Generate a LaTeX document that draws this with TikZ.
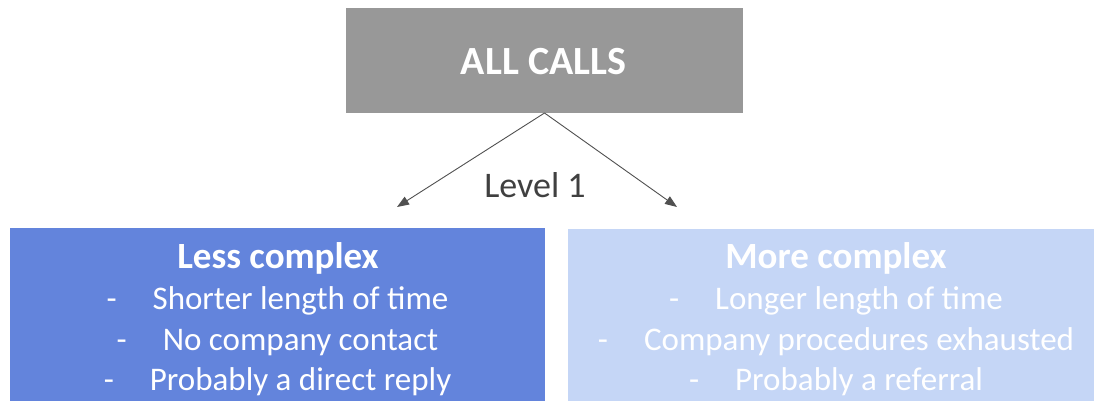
\documentclass[tikz,border=0pt]{standalone}
\usepackage{fontspec}
\setmainfont{Carlito}
\usetikzlibrary{arrows.meta}

\definecolor{grayfill}{HTML}{989898}
\definecolor{lessblue}{HTML}{6384DC}
\definecolor{moreblue}{HTML}{C5D6F6}
\definecolor{linegray}{HTML}{505050}
\definecolor{labelgray}{HTML}{404040}

\tikzset{
  panel/.style={draw=none, inner sep=0pt, outer sep=0pt},
  title/.style={anchor=base, inner sep=0pt, text=white, font=\bfseries\fontsize{40}{46}\selectfont},
  heading/.style={anchor=base, inner sep=0pt, text=white, font=\bfseries\fontsize{37}{44}\selectfont},
  item/.style={anchor=base, inner sep=0pt, text=white, font=\fontsize{33}{40}\selectfont},
  levellabel/.style={anchor=base, inner sep=0pt, text=labelgray, font=\fontsize{36}{42}\selectfont},
  conn/.style={draw=linegray, line width=0.9pt, -{Triangle[length=12pt,width=9pt]}}
}

\begin{document}
\begin{tikzpicture}[x=1pt, y=-1pt]
  \useasboundingbox (0,0) rectangle (1094,401);

  % top box
  \node[panel, fill=grayfill, minimum width=397pt, minimum height=105pt] (all) at (544.5,60.5) {};
  \node[title] (alltxt) at (543.5,75) {ALL CALLS};

  % lower panels
  \node[panel, fill=lessblue, minimum width=535pt, minimum height=180pt] (less) at (277.5,318) {};
  \node[panel, fill=moreblue, minimum width=536pt, minimum height=180pt] (more) at (836,319) {};

  % connectors
  \coordinate (tipL) at (397,207);
  \coordinate (tipR) at (677,207);
  \draw[conn] (all.south) -- (tipL);
  \draw[conn] (all.south) -- (tipR);
  \node[levellabel] (lvl) at (535,197) {Level 1};

  % less complex
  \node[heading] (lesshead) at (278,268) {Less complex};
  \node[item] (l1) at (277.5,309) {-\hspace{36pt}Shorter length of time};
  \node[item] (l2) at (277.5,350) {-\hspace{36pt}No company contact};
  \node[item] (l3) at (277.5,390) {-\hspace{36pt}Probably a direct reply};

  % more complex
  \node[heading] (morehead) at (836,268) {More complex};
  \node[item] (m1) at (836,309) {-\hspace{36pt}Longer length of time};
  \node[item] (m2) at (836,350) {-\hspace{36pt}Company procedures exhausted};
  \node[item] (m3) at (836,390) {-\hspace{36pt}Probably a referral};
\end{tikzpicture}
\end{document}
